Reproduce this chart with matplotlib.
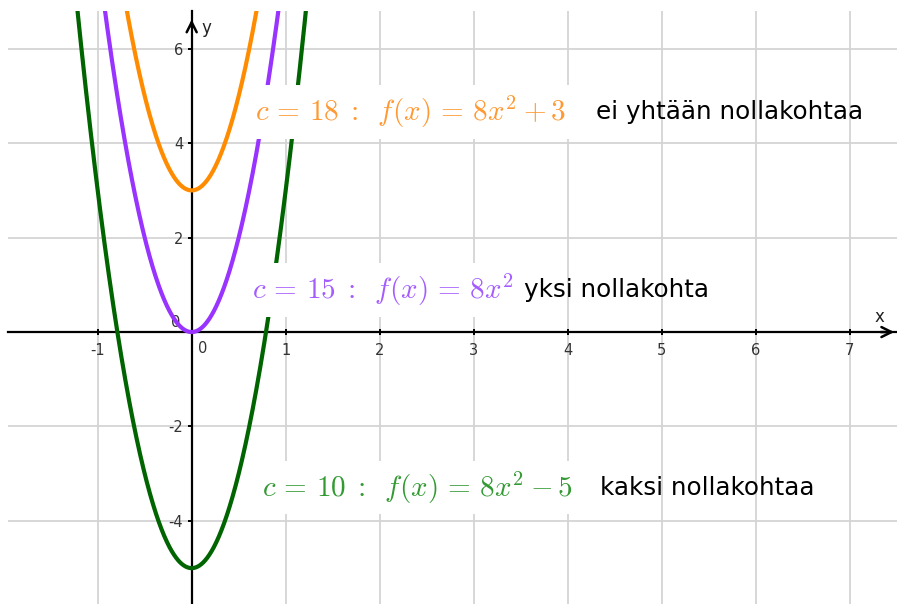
import numpy as np
import matplotlib.pyplot as plt

plt.rcParams['mathtext.fontset'] = 'cm'
plt.rcParams['axes.unicode_minus'] = False

# f(x) = 8x^2 + d for three values of c
c_values = [18, 15, 10]
constants = [3, 0, -5]
curve_colors = ['#ff8c00', '#9933ff', '#006400']
text_colors = ['#ff9933', '#a45cff', '#339933']
math_labels = [r'$c\,=\,18\;:\;\;f(x)\,=\,8x^2 + 3$',
               r'$c\,=\,15\;:\;\;f(x)\,=\,8x^2$',
               r'$c\,=\,10\;:\;\;f(x)\,=\,8x^2 - 5$']
word_labels = ['ei yhtään nollakohtaa', 'yksi nollakohta', 'kaksi nollakohtaa']
math_pos = [(0.673, 4.66), (0.64, 0.89), (0.745, -3.30)]
word_pos = [(4.30, 4.66), (3.54, 0.89), (4.34, -3.30)]

x_ticks = [-1, 1, 2, 3, 4, 5, 6, 7]
y_ticks = [-4, -2, 2, 4, 6]

fig = plt.figure(figsize=(8.97, 6.04), dpi=100)
ax = fig.add_axes([8 / 897, 0, 889 / 897, 593 / 604])
ax.set_xlim(-1.954, 7.503)
ax.set_ylim(-5.76, 6.80)

# grid
for gx in range(-1, 8):
    ax.axvline(gx, color='#d4d4d4', lw=1.3, zorder=0)
for gy in range(-4, 7, 2):
    ax.axhline(gy, color='#d4d4d4', lw=1.3, zorder=0)

# axes through origin
for s in ['top', 'right']:
    ax.spines[s].set_visible(False)
ax.spines['left'].set_position(('data', 0))
ax.spines['bottom'].set_position(('data', 0))
ax.spines['left'].set_linewidth(1.6)
ax.spines['bottom'].set_linewidth(1.6)
ax.spines['left'].set_zorder(2)
ax.spines['bottom'].set_zorder(2)
ax.set_xticks(x_ticks)
ax.set_yticks(y_ticks)
ax.tick_params(axis='x', direction='inout', length=4, width=1.4, pad=6,
               labelsize=10.5, labelcolor='#333333')
ax.tick_params(axis='y', direction='out', length=3, width=1.4, pad=3,
               labelsize=10.5, labelcolor='#333333')

# arrow heads and axis names
ax.annotate('', xy=(7.503, 0), xytext=(7.3, 0),
            arrowprops=dict(arrowstyle='->', lw=1.8, color='black',
                            mutation_scale=18), annotation_clip=False)
ax.annotate('', xy=(0, 6.68), xytext=(0, 6.4),
            arrowprops=dict(arrowstyle='->', lw=1.8, color='black',
                            mutation_scale=18), annotation_clip=False)
ax.text(7.32, 0.12, 'x', fontsize=12, color='#222222', ha='center', va='bottom')
ax.text(0.1, 6.25, 'y', fontsize=12, color='#222222', ha='left', va='bottom')
ax.text(-0.17, 0.05, '0', fontsize=10.5, color='#333333', ha='center', va='bottom')
ax.text(0.12, -0.18, '0', fontsize=10.5, color='#333333', ha='center', va='top')

xs = np.linspace(-1.954, 7.503, 2000)
for d, col in zip(constants, curve_colors):
    ax.plot(xs, 8 * xs ** 2 + d, color=col, lw=3, zorder=3,
            solid_capstyle='butt')

for lab, pos, col in zip(math_labels, math_pos, text_colors):
    ax.text(pos[0], pos[1], lab, fontsize=21, color=col, ha='left',
            va='center', zorder=5,
            bbox=dict(facecolor='white', edgecolor='none', pad=6))
for lab, pos in zip(word_labels, word_pos):
    ax.text(pos[0], pos[1], lab, fontsize=17.7, color='black', ha='left',
            va='center', zorder=5)

fig.savefig('out.png', dpi=100)
